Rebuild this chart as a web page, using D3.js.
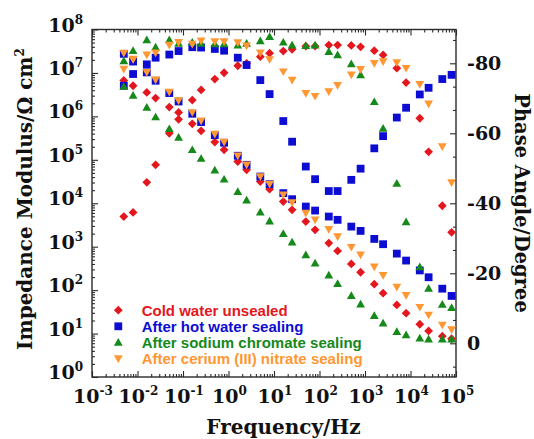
<!DOCTYPE html>
<html>
<head>
<meta charset="utf-8">
<script src="https://cdn.jsdelivr.net/npm/d3@7"></script>
<style>
  body { margin: 0; background: #fff; }
  svg { display: block; }
</style>
</head>
<body>
<svg id="chart" width="534" height="439"></svg>
<script>
// Bode data: impedance modulus (Ω cm²) and phase angle (degree) vs frequency (Hz)
const freq = [0.005, 0.008, 0.016, 0.025, 0.05, 0.08, 0.16, 0.25, 0.5, 0.8,
  1.6, 2.5, 5, 8, 16, 25, 50, 80, 160, 250, 500, 800, 1600, 2500, 5000, 8000,
  16000, 25000, 50000, 80000];

const zCold = [6.71e6, 5.07e6, 3.56e6, 2.64e6, 1.64e6, 1.23e6, 6.75e5, 4.66e5, 2.56e5, 1.70e5,
  9.14e4, 5.89e4, 3.16e4, 2.11e4, 1.09e4, 7.05e3, 3.78e3, 2.44e3, 1.21e3, 800,
  402, 258, 137, 84.9, 45.6, 29.4, 16.4, 11.5, 8.7, 7.6];
const pCold = [-36.2, -37.4, -46.0, -51.0, -60.0, -64.0, -69.5, -72.4, -75.5, -77.3,
  -79.3, -80.0, -81.9, -82.9, -83.5, -84.0, -84.9, -84.9, -85.2, -85.2,
  -85.1, -84.7, -83.6, -82.4, -78.6, -74.5, -64.3, -54.7, -39.3, -31.7];

const zHot = [5.07e6, 9.44e6, 1.03e7, 6.61e6, 3.44e6, 2.20e6, 1.15e6, 7.40e5, 3.71e5, 2.47e5,
  1.24e5, 7.67e4, 4.12e4, 2.75e4, 1.71e4, 1.24e4, 8.39e3, 6.79e3, 4.94e3, 4.15e3,
  2.90e3, 2.31e3, 1.51e3, 1.14e3, 693, 479, 284, 198, 108, 73.5];
const pHot = [-82.7, -80.5, -79.7, -81.6, -82.5, -83.5, -84.6, -84.5, -84.1, -83.6,
  -81.6, -79.5, -75.2, -71.2, -63.5, -57.6, -50.5, -46.9, -43.5, -43.5,
  -46.7, -49.9, -55.7, -59.2, -64.5, -67.3, -71.1, -73.0, -75.5, -76.7];

const zChromate = [4.89e6, 3.03e6, 1.60e6, 9.64e5, 5.18e5, 3.27e5, 1.70e5, 1.07e5, 5.79e4, 3.56e4,
  1.84e4, 1.18e4, 6.24e3, 3.87e3, 2.00e3, 1.27e3, 647, 417, 220, 141,
  74.3, 47.3, 25.8, 17.3, 11.1, 9.3, 7.8, 7.4, 7.4, 7.4];
const pChromate = [-80.7, -83.6, -86.7, -84.6, -86.7, -85.7, -86.0, -85.7, -85.5, -85.5,
  -85.2, -85.7, -86.4, -87.6, -86.0, -85.2, -85.0, -85.2, -83.3, -82.4,
  -79.8, -76.7, -69.0, -61.4, -45.7, -34.7, -21.8, -15.7, -11.1, -10.2];

const zCerium = [1.23e7, 2.09e7, 1.03e7, 6.97e6, 3.63e6, 2.32e6, 1.23e6, 7.92e5, 3.91e5, 2.56e5,
  1.24e5, 7.67e4, 4.12e4, 2.75e4, 1.56e4, 1.04e4, 5.92e3, 4.15e3, 2.50e3, 1.71e3,
  973, 647, 343, 220, 117, 76.3, 40.4, 26.8, 15.8, 12.4];
const pCerium = [-82.9, -81.1, -82.4, -83.0, -85.2, -86.0, -85.5, -86.4, -86.2, -86.2,
  -85.9, -85.0, -83.0, -81.1, -77.6, -75.2, -71.4, -70.6, -71.9, -73.7,
  -76.7, -78.3, -80.0, -80.5, -80.2, -78.6, -74.0, -68.4, -56.2, -45.9];

const seriesNames = ["Cold water unsealed", "After hot water sealing",
  "After sodium chromate sealing", "After cerium (III) nitrate sealing"];
const seriesColors = ["#e3171d", "#0c0cd2", "#15891a", "#ff9733"];
const seriesShapes = ["diamond", "square", "triUp", "triDown"];

const xTickExps = [-3, -2, -1, 0, 1, 2, 3, 4, 5];
const yTickExps = [0, 1, 2, 3, 4, 5, 6, 7, 8];
const phaseTicks = [0, -20, -40, -60, -80];
const phaseMinorTicks = [20/3, -20/3, -40/3, -80/3, -100/3, -140/3, -160/3, -200/3, -220/3, -260/3];

const series = seriesNames.map((name, i) => ({
  name, color: seriesColors[i], shape: seriesShapes[i],
  z: [zCold, zHot, zChromate, zCerium][i],
  p: [pCold, pHot, pChromate, pCerium][i]
}));

// ---- layout ----
const box = { left: 92, right: 456, top: 29.5, bottom: 377 };
const svg = d3.select("#chart");
const ink = "#2a2a2a";
const serif = "'DejaVu Serif', serif";

const x = d3.scaleLog().domain([1e-3, 1e5]).range([box.left, box.right]);
const yZ = d3.scaleLog().domain([1, 1e8]).range([box.bottom, box.top]);
const yP = d3.scaleLinear().domain([0, -80]).range([343.3, 63.3]);

const xMajor = xTickExps.map(e => Math.pow(10, e));
const xMinor = [];
xTickExps.slice(0, -1).forEach(e => { for (let k = 2; k <= 9; k++) xMinor.push(k * Math.pow(10, e)); });
const yMajor = yTickExps.map(e => Math.pow(10, e));
const yMinor = [];
yTickExps.slice(0, -1).forEach(e => { for (let k = 2; k <= 9; k++) yMinor.push(k * Math.pow(10, e)); });

function styleAxis(g) {
  g.select(".domain").remove();
  g.selectAll("line").attr("stroke", ink).attr("stroke-width", 1.1);
}

// ticks on all four sides, pointing inward
const axes = svg.append("g");
axes.append("g").attr("transform", `translate(0,${box.bottom})`)
  .call(d3.axisBottom(x).tickValues(xMajor).tickSize(-6).tickFormat(() => "")).call(styleAxis);
axes.append("g").attr("transform", `translate(0,${box.bottom})`)
  .call(d3.axisBottom(x).tickValues(xMinor).tickSize(-3).tickFormat(() => "")).call(styleAxis);
axes.append("g").attr("transform", `translate(0,${box.top})`)
  .call(d3.axisTop(x).tickValues(xMajor).tickSize(-6).tickFormat(() => "")).call(styleAxis);
axes.append("g").attr("transform", `translate(0,${box.top})`)
  .call(d3.axisTop(x).tickValues(xMinor).tickSize(-3).tickFormat(() => "")).call(styleAxis);
axes.append("g").attr("transform", `translate(${box.left},0)`)
  .call(d3.axisLeft(yZ).tickValues(yMajor).tickSize(-6).tickFormat(() => "")).call(styleAxis);
axes.append("g").attr("transform", `translate(${box.left},0)`)
  .call(d3.axisLeft(yZ).tickValues(yMinor).tickSize(-3).tickFormat(() => "")).call(styleAxis);
axes.append("g").attr("transform", `translate(${box.right},0)`)
  .call(d3.axisRight(yP).tickValues(phaseTicks).tickSize(-6).tickFormat(() => "")).call(styleAxis);
axes.append("g").attr("transform", `translate(${box.right},0)`)
  .call(d3.axisRight(yP).tickValues(phaseMinorTicks).tickSize(-3).tickFormat(() => "")).call(styleAxis);

svg.append("rect")
  .attr("x", box.left).attr("y", box.top)
  .attr("width", box.right - box.left).attr("height", box.bottom - box.top)
  .attr("fill", "none").attr("stroke", ink).attr("stroke-width", 1.4);

// power-of-ten tick labels
function powerLabel(sel, exp) {
  sel.append("tspan").text("10");
  sel.append("tspan").attr("dy", -8).attr("font-size", 12).text(String(exp));
}
const labels = svg.append("g").attr("font-family", serif).attr("font-weight", "bold")
  .attr("font-size", 19).attr("fill", "#111");

xTickExps.forEach(e => {
  labels.append("text").attr("x", x(Math.pow(10, e)) + 1).attr("y", 403)
    .attr("text-anchor", "middle").call(powerLabel, e);
});
yTickExps.forEach(e => {
  labels.append("text").attr("x", 83).attr("y", yZ(Math.pow(10, e)) + 2)
    .attr("text-anchor", "end").call(powerLabel, e);
});
phaseTicks.forEach(v => {
  labels.append("text").attr("x", 467).attr("y", yP(v)).attr("dy", "0.36em")
    .text(String(v));
});

// axis titles
const titles = svg.append("g").attr("font-family", serif).attr("font-weight", "bold")
  .attr("font-size", 20).attr("fill", "#111");
titles.append("text").attr("x", 283.5).attr("y", 434).attr("text-anchor", "middle")
  .text("Frequency/Hz");
const yTitle = titles.append("text").attr("text-anchor", "middle")
  .attr("transform", "translate(31.5,199) rotate(-90)");
yTitle.append("tspan").text("Impedance Modulus/Ω cm");
yTitle.append("tspan").attr("dy", -8).attr("font-size", 12).text("2");
titles.append("text").attr("text-anchor", "middle")
  .attr("font-size", 19.5)
  .attr("transform", "translate(514.5,203) rotate(90)")
  .text("Phase Angle/Degree");

// marker shapes
const shapePath = {
  diamond: "M0,-4.4L4.4,0L0,4.4L-4.4,0Z",
  square: "M-3.9,-3.9H3.9V3.9H-3.9Z",
  triUp: "M0,-4.4L4.4,3.3L-4.4,3.3Z",
  triDown: "M0,4.4L4.4,-3.3L-4.4,-3.3Z"
};

const marks = svg.append("g");
series.forEach(s => {
  const g = marks.append("g").attr("fill", s.color);
  g.selectAll("path.z").data(freq.map((f, i) => [f, s.z[i]])).join("path")
    .attr("class", "z").attr("d", shapePath[s.shape])
    .attr("transform", d => `translate(${x(d[0])},${yZ(d[1])})`);
  g.selectAll("path.p").data(freq.map((f, i) => [f, s.p[i]])).join("path")
    .attr("class", "p").attr("d", shapePath[s.shape])
    .attr("transform", d => `translate(${x(d[0])},${yP(d[1])})`);
});

// legend
const legend = svg.append("g").attr("font-family", "'Liberation Sans', Arial, sans-serif")
  .attr("font-weight", "bold").attr("font-size", 15);
series.forEach((s, i) => {
  const base = 315.7 + i * 16.1;
  legend.append("path").attr("d", shapePath[s.shape]).attr("fill", s.color)
    .attr("transform", `translate(118.3,${base - 5.5})`);
  legend.append("text").attr("x", 141.7).attr("y", base).attr("fill", s.color).text(s.name);
});
</script>
</body>
</html>
